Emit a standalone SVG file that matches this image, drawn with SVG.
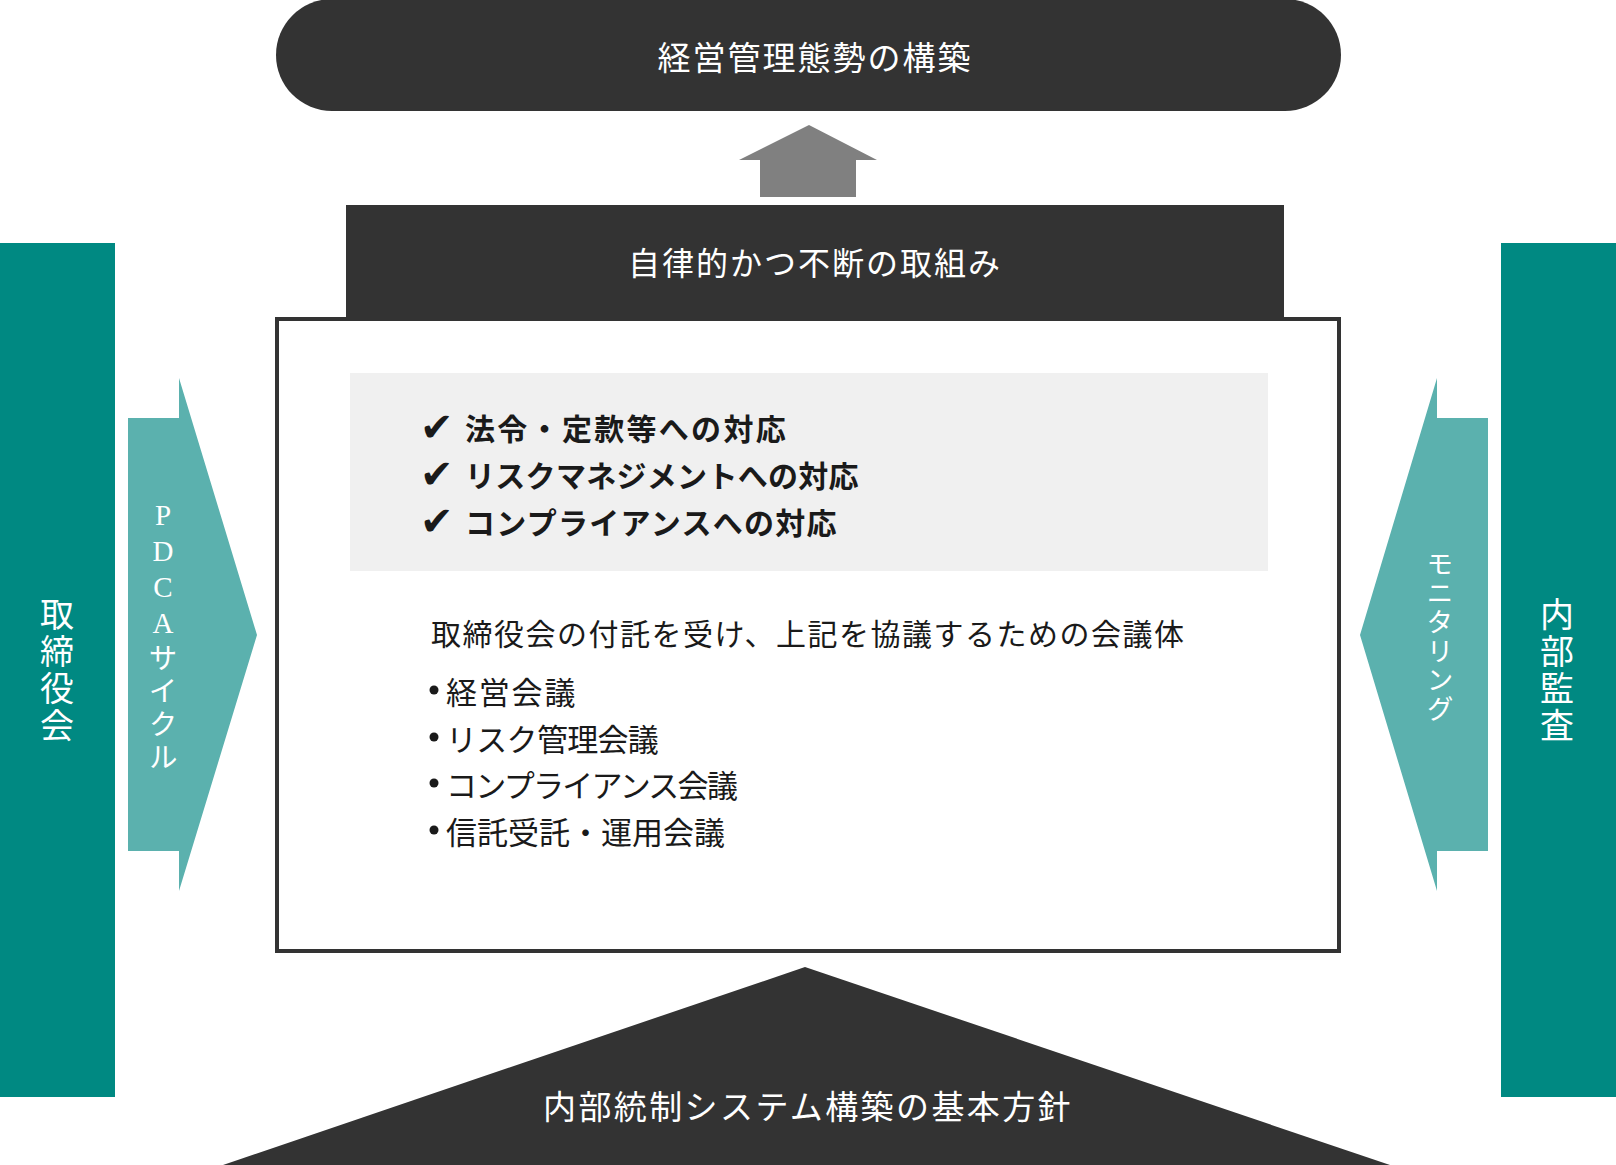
<svg xmlns="http://www.w3.org/2000/svg" width="1616" height="1165" viewBox="0 0 1616 1165">
<style>
.jp{font-family:"Noto Sans CJK JP","Noto Sans CJK SC",sans-serif;}
.w{fill:#ffffff;}
.k{fill:#1a1a1a;}
.dark{fill:#333333;}
.teal{fill:#008982;}
.lteal{fill:#5bb1ae;}
.c{text-anchor:middle;dominant-baseline:central;}
.vt{writing-mode:vertical-rl;text-orientation:upright;text-anchor:middle;}
.chk{font-family:"DejaVu Sans",sans-serif;font-size:40px;font-weight:700;fill:#1a1a1a;dominant-baseline:central;}
</style>
<rect width="1616" height="1165" fill="#ffffff"/>

<g id="connectors">
  <polygon id="up-arrow" points="809,125 877,160 856,160 856,197 760,197 760,160 739,160" fill="#808080"/>
  <polygon id="pdca-arrow" class="lteal" points="128,418 179,418 179,378 257,635 179,891 179,851 128,851"/>
  <polygon id="monitoring-arrow" class="lteal" points="1488,418 1437,418 1437,378 1360,635 1437,891 1437,851 1488,851"/>
</g>

<g id="node-keiei">
  <rect class="dark" x="276" y="-1" width="1065" height="112" rx="56" ry="56"/>
  <text class="jp w c" x="815" y="56" font-size="33" letter-spacing="2">経営管理態勢の構築</text>
</g>

<g id="node-torikumi">
  <rect class="dark" x="346" y="205" width="938" height="115"/>
  <text class="jp w c" x="815" y="261" font-size="32" letter-spacing="2">自律的かつ不断の取組み</text>
</g>

<g id="node-torishimariyakukai">
  <rect class="teal" x="0" y="243" width="115" height="854"/>
  <text class="jp w vt" x="57" y="671" font-size="34" letter-spacing="3">取締役会</text>
</g>

<g id="node-naibukansa">
  <rect class="teal" x="1501" y="243" width="115" height="854"/>
  <text class="jp w vt" x="1557" y="671" font-size="34" letter-spacing="3">内部監査</text>
</g>

<g id="label-pdca">
  <text class="jp w vt" x="163" y="637" font-size="29" letter-spacing="4"><tspan font-family="Liberation Serif, serif">PDCA</tspan>サイクル</text>
</g>

<g id="label-monitoring">
  <text class="jp w vt" x="1440" y="637" font-size="27" letter-spacing="2">モニタリング</text>
</g>

<g id="node-kaigitai">
  <rect x="277" y="319" width="1062" height="632" fill="#ffffff" stroke="#333333" stroke-width="4"/>
  <rect x="350" y="373" width="918" height="198" fill="#f0f0f0"/>
  <text class="chk" x="420" y="427">✔</text>
  <text class="chk" x="420" y="474">✔</text>
  <text class="chk" x="420" y="521">✔</text>
  <text class="jp k" x="465" y="427" font-size="30" font-weight="700" letter-spacing="2.3" dominant-baseline="central">法令・定款等への対応</text>
  <text class="jp k" x="465" y="474" font-size="30" font-weight="700" letter-spacing="0.3" dominant-baseline="central">リスクマネジメントへの対応</text>
  <text class="jp k" x="465" y="521" font-size="30" font-weight="700" letter-spacing="1.3" dominant-baseline="central">コンプライアンスへの対応</text>
  <text class="jp k" x="431" y="632" font-size="30" letter-spacing="1.5" dominant-baseline="central">取締役会の付託を受け、上記を協議するための会議体</text>
  <g class="k">
    <circle cx="434" cy="690" r="4.5"/>
    <circle cx="434" cy="737" r="4.5"/>
    <circle cx="434" cy="783" r="4.5"/>
    <circle cx="434" cy="830" r="4.5"/>
  </g>
  <text class="jp k" x="446" y="690" font-size="31" letter-spacing="1.8" dominant-baseline="central">経営会議</text>
  <text class="jp k" x="446" y="737" font-size="31" letter-spacing="-0.7" dominant-baseline="central">リスク管理会議</text>
  <text class="jp k" x="446" y="783" font-size="31" letter-spacing="-1.7" dominant-baseline="central">コンプライアンス会議</text>
  <text class="jp k" x="446" y="830" font-size="31" letter-spacing="0" dominant-baseline="central">信託受託・運用会議</text>
</g>

<g id="node-kihonhoshin">
  <polygon class="dark" points="805,967 1390,1165 223,1165"/>
  <text class="jp w c" x="808" y="1105" font-size="33" letter-spacing="2.4">内部統制システム構築の基本方針</text>
</g>
</svg>
